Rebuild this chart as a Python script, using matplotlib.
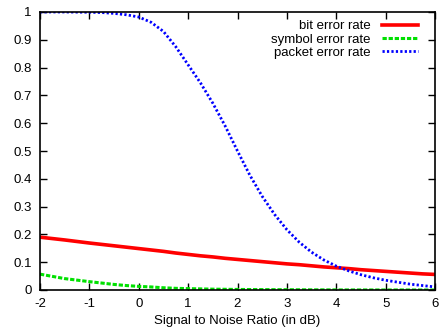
import numpy as np
import matplotlib
matplotlib.use('Agg')
import matplotlib.pyplot as plt

plt.rcParams['font.family'] = ['Liberation Sans', 'DejaVu Sans']
plt.rcParams['axes.unicode_minus'] = False

# SNR (dB)
snr = [-2, -1.5, -1, -0.75, -0.5, -0.25, 0, 0.25, 0.5, 0.75, 1, 1.25, 1.5, 1.75, 2, 2.25, 2.5,
       2.75, 3, 3.25, 3.5, 3.75, 4, 4.25, 4.5, 4.75, 5, 5.25, 5.5, 5.75, 6]

# bit error rate
ber = [0.19, 0.18, 0.169, 0.164, 0.159, 0.154, 0.149, 0.144, 0.139, 0.133, 0.128, 0.123, 0.119,
       0.114, 0.11, 0.106, 0.102, 0.098, 0.094, 0.091, 0.087, 0.083, 0.08,
       0.077, 0.073, 0.07, 0.067, 0.064, 0.061, 0.058, 0.056]

# symbol error rate
ser = [0.057, 0.041, 0.03, 0.025, 0.02, 0.016, 0.013, 0.011, 0.008, 0.006, 0.005, 0.004, 0.003,
       0.0025, 0.002, 0.0017, 0.0014, 0.0012, 0.001, 0.0008, 0.0006, 0.0005, 0.0003,
       0.0002, 0.0002, 0.0001, 0.0001, 0.0001, 0.0, 0.0, 0.0]

# packet error rate
per = [1.0, 1.0, 0.999, 0.998, 0.995, 0.99, 0.982, 0.963, 0.93, 0.875, 0.81, 0.745, 0.672,
       0.59, 0.5, 0.413, 0.337, 0.272, 0.217, 0.172, 0.136, 0.108, 0.086,
       0.069, 0.055, 0.044, 0.035, 0.028, 0.021, 0.016, 0.011]

fig = plt.figure(figsize=(4.46, 3.35), dpi=100)
ax = fig.add_axes([40/446, 45/335, 395/446, 278/335])

ax.plot(snr, ber, color='#ff0000', lw=2.6, label='bit error rate')
ax.plot(snr, ser, color='#00e000', lw=2.2, linestyle=(0, (1.4, 0.6)), label='symbol error rate')
ax.plot(snr, per, color='#0000ff', lw=2.0, linestyle=(0, (0.8, 0.8)), label='packet error rate')

ax.set_xlim(-2, 6)
ax.set_ylim(0, 1)
ax.set_xticks(range(-2, 7))
ax.set_yticks(np.arange(0, 11) / 10)
ax.set_yticklabels(['0', '0.1', '0.2', '0.3', '0.4', '0.5', '0.6', '0.7', '0.8', '0.9', '1'])
ax.tick_params(direction='in', top=True, right=True, length=5, width=1, labelsize=9.5)
ax.tick_params(axis='x', pad=6)
ax.tick_params(axis='y', pad=6)
for s in ax.spines.values():
    s.set_linewidth(1.2)

ax.set_xlabel('Signal to Noise Ratio (in dB)', fontsize=9.5, labelpad=3.5)

ax.legend(loc='upper right', bbox_to_anchor=(1 - 17/395, 1 - 8/278), frameon=False,
          markerfirst=False, fontsize=9.5, handlelength=2.7, labelspacing=0.08,
          borderaxespad=0, borderpad=0, handletextpad=0.9)

fig.savefig('out.png', dpi=100)
